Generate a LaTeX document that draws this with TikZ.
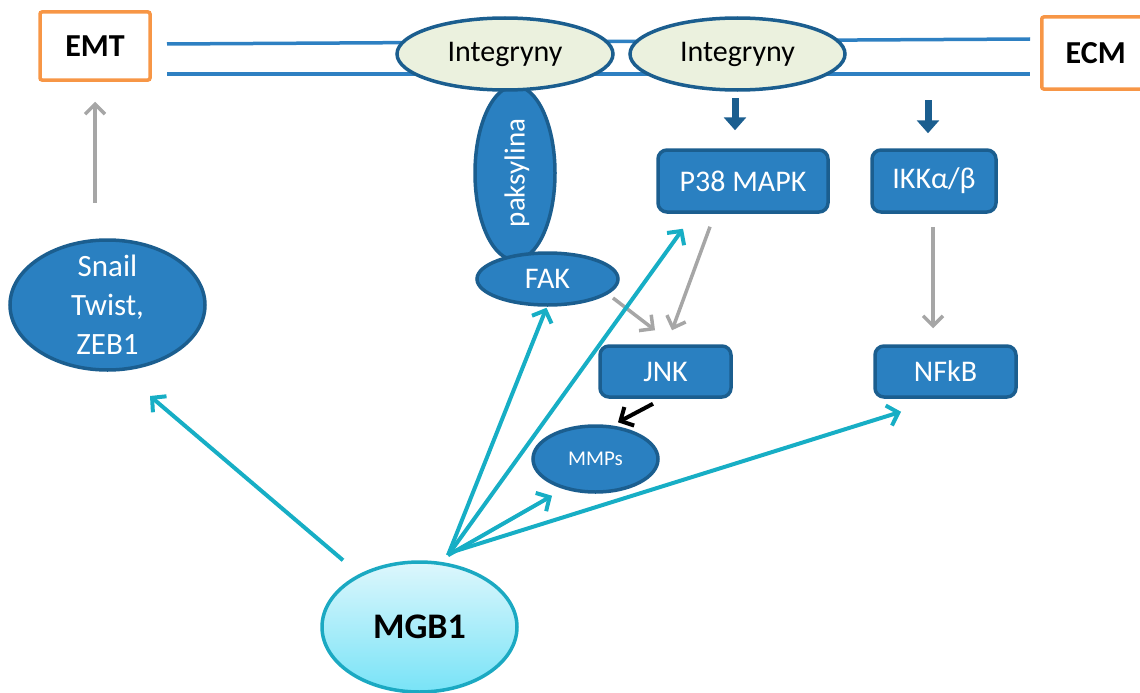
\documentclass[tikz,border=0pt]{standalone}
\usepackage{fontspec}
\setmainfont{Carlito}
\usetikzlibrary{arrows.meta,shapes.geometric,calc}
\definecolor{boxblue}{HTML}{2A80C1}
\definecolor{edgeblue}{HTML}{1B5E8F}
\definecolor{memblue}{HTML}{2E80C2}
\definecolor{intfill}{HTML}{EBF1DE}
\definecolor{orng}{HTML}{F79646}
\definecolor{cyn}{HTML}{17AEC5}
\definecolor{gry}{HTML}{A6A6A6}
\definecolor{mgbtop}{HTML}{DDF7FC}
\definecolor{mgbbot}{HTML}{78E3F7}
\definecolor{mgbedge}{HTML}{1BA9C2}
\tikzset{
  bluebox/.style={draw=edgeblue, fill=boxblue, line width=3.5pt, rounded corners=9pt, inner sep=0pt, text=white, font=\fontsize{30}{36}\selectfont},
  blueell/.style={ellipse, draw=edgeblue, fill=boxblue, line width=3.5pt, inner sep=0pt, text=white, font=\fontsize{30}{36}\selectfont},
  intell/.style={ellipse, draw=edgeblue, fill=intfill, line width=3.5pt, inner sep=0pt, font=\fontsize{30}{36}\selectfont, minimum width=216pt, minimum height=72pt},
  orbox/.style={draw=orng, line width=3.5pt, rounded corners=2pt, inner sep=0pt, font=\bfseries\fontsize{32}{36}\selectfont},
  membrane/.style={draw=memblue, line width=3.5pt},
  blockarr/.style={draw=edgeblue, line width=7pt, -{Triangle[length=13pt,width=22pt]}},
  grayarr/.style={draw=gry, line width=3.5pt, -{Straight Barb[length=10pt,width=20pt]}},
  cyanarr/.style={draw=cyn, line width=4pt, -{Straight Barb[length=10pt,width=21pt]}},
  blackarr/.style={draw=black, line width=4pt, -{Straight Barb[length=10pt,width=21pt]}},
  wtext/.style={text=white, inner sep=0pt, align=center}
}
\begin{document}
\begin{tikzpicture}[x=1pt,y=-1pt]
\useasboundingbox (0,0) rectangle (1140,693);

% membrane
\coordinate (m1a) at (167,44);
\coordinate (m1b) at (1030,39);
\coordinate (m2a) at (167,74);
\coordinate (m2b) at (1030,74);
\draw[membrane] (m1a) -- (m1b);
\draw[membrane] (m2a) -- (m2b);

% boxes
\node[orbox, minimum width=110pt, minimum height=68pt] (emt) at (95,46) {EMT};
\node[orbox, minimum width=112pt, minimum height=72pt, anchor=west] (ecm) at (1040,53) {\hspace*{-2pt}ECM\hspace*{2pt}};

% paksylina, behind integryny and FAK
\node[blueell, minimum width=80pt, minimum height=174pt] (pax) at (515,173) {};
\node[rotate=90, wtext, font=\fontsize{29}{34}\selectfont] (paxt) at (517,173) {paksylina};

\node[intell] (int1) at (505,54) {Integryny};
\node[intell, minimum width=215pt] (int2) at (737.5,54) {Integryny};

\node[blueell, minimum width=141pt, minimum height=52pt] (fak) at (547.5,279) {FAK};

\node[bluebox, minimum width=170pt, minimum height=62pt] (p38) at (743,181) {P38 MAPK};
\node[bluebox, minimum width=124pt, minimum height=62pt] (ikk) at (934,181) {IKKα/β};
\node[bluebox, minimum width=131pt, minimum height=51pt] (jnk) at (665.5,371.5) {JNK};
\node[bluebox, minimum width=141pt, minimum height=51pt] (nfkb) at (945.5,371.5) {NFkB};

\node[blueell, minimum width=125pt, minimum height=66pt, font=\fontsize{21}{25}\selectfont] (mmps) at (595.5,459) {MMPs};

\node[blueell, minimum width=195pt, minimum height=130pt] (snail) at (107.5,305) {};
\node[wtext, font=\fontsize{31}{39}\selectfont] (snailt) at (107.5,305) {Snail\\Twist,\\ZEB1};

\node[ellipse, draw=mgbedge, line width=3.5pt, top color=mgbtop, bottom color=mgbbot, minimum width=195pt, minimum height=130pt, inner sep=0pt, font=\bfseries\fontsize{36}{42}\selectfont] (mgb) at (419.5,627) {MGB1};

% block arrows from integrins
\coordinate (b1) at (735,98);
\coordinate (b2) at (928,100);
\draw[blockarr] (b1) -- ($(p38.north)+(-8,-18)$);
\draw[blockarr] (b2) -- ($(ikk.north)+(-6,-15)$);

% gray arrows
\coordinate (g1) at (95,203);
\draw[grayarr] (g1) -- ($(emt.south)+(0,20)$);
\draw[grayarr] ($(ikk.south)+(-1,13)$) -- ($(nfkb.north)+(-12.5,-16)$);
\draw[grayarr] ($(p38.south)+(-33,13)$) -- ($(jnk.north)+(6.5,-14)$);
\draw[grayarr] ($(fak.center)+(65.5,19)$) -- ($(jnk.north)+(-10.5,-14)$);

% black arrow
\draw[blackarr] ($(jnk.south)+(-12.5,5)$) -- ($(mmps.north)+(22.5,-2)$);

% cyan arrows
\coordinate (hub) at ($(mgb.north)+(28.5,-5)$);
\draw[cyanarr] (hub) -- ($(fak.south)+(-1,1)$);
\draw[cyanarr] (hub) -- ($(p38.south)+(-60,15)$);
\draw[cyanarr] (hub) -- ($(mmps.south)+(-43.5,2)$);
\draw[cyanarr] ($(mgb.north)+(32,-8)$) -- ($(nfkb.south)+(-44.5,13)$);
\draw[cyanarr] ($(mgb.north)+(-76.5,0)$) -- ($(snail.center)+(42.5,91)$);
\end{tikzpicture}
\end{document}
